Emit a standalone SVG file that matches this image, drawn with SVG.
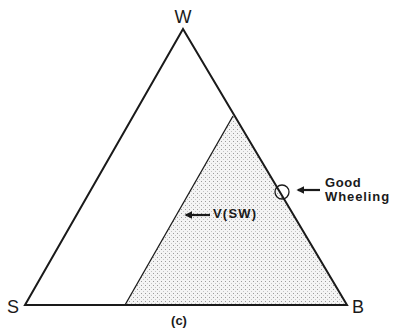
<svg xmlns="http://www.w3.org/2000/svg" width="394" height="333" viewBox="0 0 394 333">
<style>
.edge{fill:none;stroke:#1a1a1a;stroke-width:2;stroke-linejoin:miter}
.thin{fill:none;stroke:#1a1a1a;stroke-width:1.3}
.vtx{font-family:"Liberation Sans",Arial,sans-serif;font-size:18px;fill:#1a1a1a}
.lbl{font-family:"Liberation Sans",Arial,sans-serif;font-size:13px;font-weight:bold;fill:#1a1a1a}
.arr{stroke:#1a1a1a;stroke-width:2.2;fill:none}
</style>
<defs>
<pattern id="dots" width="4" height="4" patternUnits="userSpaceOnUse">
<rect width="4" height="4" fill="#f4f4f4"/>
<rect x="1" y="1" width="1" height="1" fill="#9a9a9a"/>
<rect x="3" y="3" width="1" height="1" fill="#c4c4c4"/>
</pattern>
<marker id="ah" viewBox="0 0 10 10" refX="8" refY="5" markerWidth="3.5" markerHeight="3.5" orient="auto">
<path d="M0,0 L10,5 L0,10 z" fill="#1a1a1a"/>
</marker>
</defs>
<g id="region-vsw">
<polygon points="233,116 125,305 347,305" fill="url(#dots)"/>
<line class="thin" x1="233" y1="116" x2="125" y2="305"/>
</g>
<g id="triangle">
<polygon class="edge" points="183,29 25,305 347,305"/>
</g>
<g id="node-W"><text class="vtx" x="183" y="23" text-anchor="middle">W</text></g>
<g id="node-S"><text class="vtx" x="7" y="313">S</text></g>
<g id="node-B"><text class="vtx" x="352" y="313">B</text></g>
<g id="good-wheeling">
<circle cx="282" cy="192" r="7" fill="none" stroke="#1a1a1a" stroke-width="1.3"/>
<text class="lbl" x="325" y="187" letter-spacing="0.6">Good</text>
<text class="lbl" x="325" y="201" letter-spacing="0.9">Wheeling</text>
</g>
<g id="vsw-label">
<text class="lbl" x="213" y="218" letter-spacing="1.2">V(SW)</text>
</g>
<g id="connectors">
<line class="arr" x1="320" y1="190" x2="298" y2="190" marker-end="url(#ah)"/>
<line class="arr" x1="210" y1="215" x2="186" y2="215" marker-end="url(#ah)"/>
</g>
<g id="caption"><text class="lbl" x="179" y="325" text-anchor="middle" font-size="11">(c)</text></g>
</svg>
